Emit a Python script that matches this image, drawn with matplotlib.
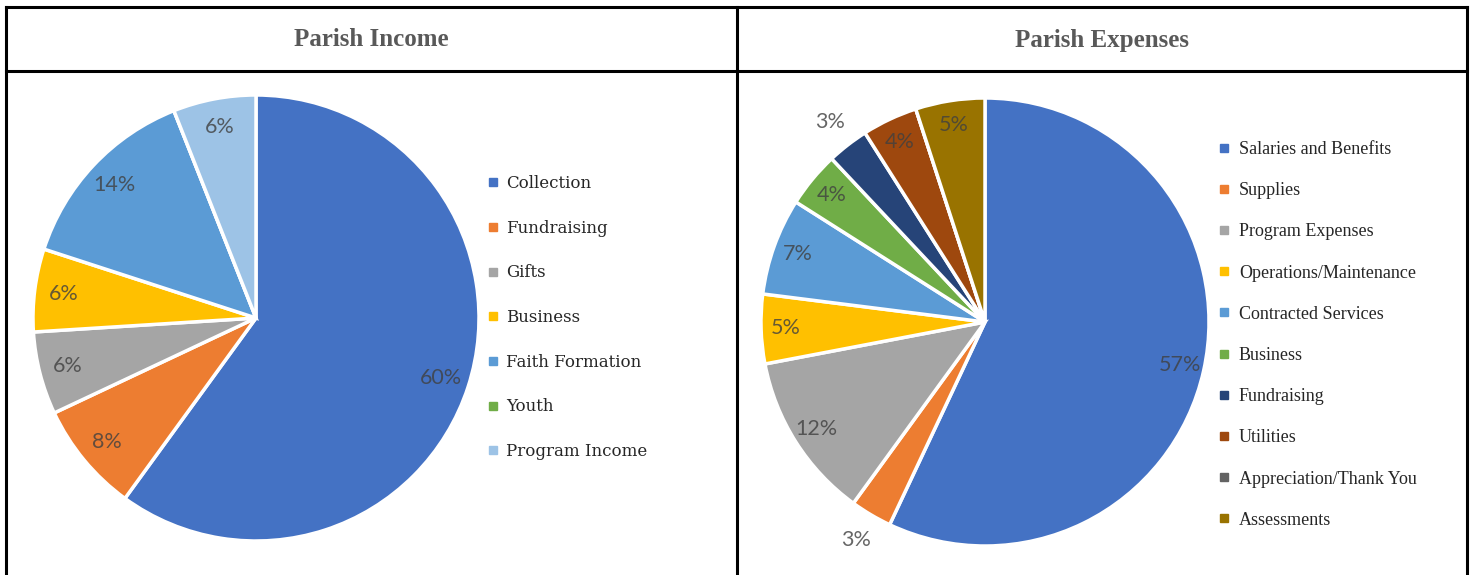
import numpy as np
import matplotlib.pyplot as plt
from matplotlib.lines import Line2D

# Income data
income_labels = ['Collection', 'Fundraising', 'Gifts', 'Business',
                 'Faith Formation', 'Youth', 'Program Income']
income_values = [60, 8, 6, 6, 14, 0, 6]
income_colors = ['#4472C4', '#ED7D31', '#A5A5A5', '#FFC000',
                 '#5B9BD5', '#70AD47', '#9DC3E6']

# Expense data
expense_labels = ['Salaries and Benefits', 'Supplies', 'Program Expenses',
                  'Operations/Maintenance', 'Contracted Services', 'Business',
                  'Fundraising', 'Utilities', 'Appreciation/Thank You', 'Assessments']
expense_values = [57, 3, 12, 5, 7, 4, 3, 4, 0, 5]
expense_colors = ['#4472C4', '#ED7D31', '#A5A5A5', '#FFC000', '#5B9BD5',
                  '#70AD47', '#264478', '#9E480E', '#636363', '#997300']

W, H = 1470, 575
fig = plt.figure(figsize=(W / 100, H / 100), dpi=100)


def fx(x):
    return x / W


def fy(y):
    return 1 - y / H


# --- table borders ---
border = dict(transform=fig.transFigure, color='black', lw=2.2)
fig.add_artist(Line2D([fx(6), fx(1467)], [fy(7), fy(7)], **border))
fig.add_artist(Line2D([fx(6), fx(1467)], [fy(71), fy(71)], **border))
for xb in (6, 737, 1467):
    fig.add_artist(Line2D([fx(xb), fx(xb)], [fy(7), fy(575)], **border))

head = dict(fontfamily='Liberation Serif', fontweight='bold', fontsize=18,
            color='#595959', ha='center', va='center')
fig.text(fx(371), fy(40), 'Parish Income', **head)
fig.text(fx(1102), fy(40), 'Parish Expenses', **head)


def draw_pie(rect, values, colors, pctdist, outside=0):
    ax = fig.add_axes(rect)
    wedges, _, autotexts = ax.pie(
        values, colors=colors, startangle=90, counterclock=False,
        autopct=lambda p: f'{p:.0f}%' if p > 0.5 else '',
        pctdistance=pctdist,
        wedgeprops=dict(edgecolor='white', linewidth=2.5),
        textprops=dict(fontfamily='Lato', fontsize=15.5, color='#404040'))
    ax.set_xlim(-1, 1)
    ax.set_ylim(-1, 1)
    ax.set_aspect('equal')
    for w, t, v in zip(wedges, autotexts, values):
        t.set_alpha(0.8)
        if 0 < v <= outside:
            ang = np.deg2rad((w.theta1 + w.theta2) / 2)
            t.set_position((1.13 * np.cos(ang), 1.13 * np.sin(ang)))
    return ax


def legend(labels, colors, anchor, prop, spacing):
    handles = [Line2D([], [], marker='s', linestyle='None', markersize=6,
                      color=c) for c in colors]
    fig.legend(handles, labels, loc='upper left', bbox_to_anchor=anchor,
               frameon=False, prop=prop, labelspacing=spacing,
               handlelength=0.6, handletextpad=0.5, borderpad=0,
               borderaxespad=0, labelcolor='#262626')


draw_pie([fx(33), fy(541), 446 / W, 446 / H], income_values, income_colors, 0.87)
legend(income_labels, income_colors, (fx(488), fy(175)),
       dict(family='DejaVu Serif', size=12), 1.66)

draw_pie([fx(761), fy(546), 448 / W, 448 / H], expense_values, expense_colors,
         0.89, outside=3)
legend(expense_labels, expense_colors, (fx(1219), fy(141)),
       dict(family='Liberation Serif', size=13), 1.34)

fig.savefig('out.png', dpi=100)
